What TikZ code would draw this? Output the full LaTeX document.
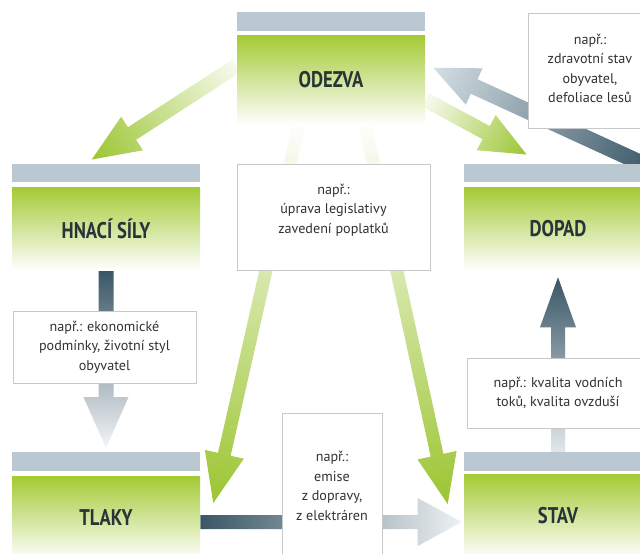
\documentclass[tikz,border=0pt]{standalone}
\usepackage{fontspec}
\setmainfont{PT Sans}
\newfontfamily\headfont[FakeStretch=0.82]{PT Sans}
\usetikzlibrary{calc}
\pgfdeclarelayer{bg}
\pgfsetlayers{bg,main}
\definecolor{grn}{RGB}{163,202,52}
\definecolor{agrn}{RGB}{156,197,50}
\definecolor{barcol}{RGB}{186,200,209}
\definecolor{headcol}{RGB}{40,52,55}
\definecolor{txtcol}{RGB}{50,50,50}
\definecolor{boxcol}{RGB}{200,200,200}
\definecolor{adark}{RGB}{58,86,102}
\definecolor{alight}{RGB}{212,222,228}
% block arrow: #1 start, #2 tip, #3 shaft half width, #4 head half width, #5 head length, #6 shading options
\newcommand\blockarrow[6]{%
  \path let \p1=($(#2)-(#1)$) in
    \pgfextra{\pgfmathsetmacro\tmpa{atan2(\y1,\x1)}\xdef\arang{\tmpa}%
              \pgfmathsetmacro\tmpb{veclen(\x1,\y1)/0.75}\xdef\arlen{\tmpb}};
  \begin{scope}[transform canvas={shift={(#1)},rotate=\arang}, x=0.75pt, y=0.75pt]
    \shade[#6]
      (0,-#3) -- (\arlen-#5,-#3) -- (\arlen-#5,-#4) -- (\arlen,0) --
      (\arlen-#5,#4) -- (\arlen-#5,#3) -- (0,#3) -- cycle;
  \end{scope}}
\begin{document}
\begin{tikzpicture}[x=0.75pt,y=-0.75pt,
  bar/.style={fill=barcol, draw=none, inner sep=0pt, minimum width=141pt, minimum height=13.75pt},
  gbox/.style={top color=grn, middle color=grn!45!white, bottom color=white, draw=none, inner sep=0pt,
    minimum width=141pt, text=headcol, font=\headfont\bfseries\fontsize{17}{19}\selectfont},
  tbox/.style={draw=boxcol, fill=white, line width=0.7pt, inner sep=0pt},
  ttext/.style={align=center, text=txtcol, inner sep=0pt, font=\fontsize{10.6}{14.7}\selectfont}]
\useasboundingbox (0,0) rectangle (640,554);
% main boxes
\node[bar] (odezvabar) at (331,21.5) {};
\node[gbox, minimum height=67.5pt] (odezva) at (331,80) {ODEZVA};
\node[bar] (hnacibar) at (106,173) {};
\node[gbox, minimum height=62.25pt] (hnaci) at (106,228.5) {HNACÍ SÍLY};
\node[bar] (dopadbar) at (558,173) {};
\node[gbox, minimum height=62.25pt] (dopad) at (558,228.5) {DOPAD};
\node[bar] (tlakybar) at (106,461.5) {};
\node[gbox, minimum height=63pt] (tlaky) at (106,518) {TLAKY};
\node[bar] (stavbar) at (558,461.5) {};
\node[gbox, minimum height=63pt] (stav) at (558,516) {STAV};
% text boxes
\node[tbox, minimum width=93pt, minimum height=86.25pt] (odbox) at (590,70.5) {};
\node[ttext] (odtext) at (590,68.5) {např.:\\zdravotní stav\\obyvatel,\\defoliace lesů};
\node[tbox, minimum width=144.75pt, minimum height=79.5pt] (midbox) at (333.5,217) {};
\node[ttext] (midtext) at (333.5,210) {např.:\\úprava legislativy\\zavedení poplatků};
\node[tbox, minimum width=137.25pt, minimum height=54pt] (lbox) at (104.5,347) {};
\node[ttext] (ltext) at (104.5,347) {např.: ekonomické\\podmínky, životní styl\\obyvatel};
\node[tbox, minimum width=136.5pt, minimum height=52.5pt] (rbox) at (558,393) {};
\node[ttext] (rtext) at (558,393) {např.: kvalita vodních\\toků, kvalita ovzduší};
\node[tbox, minimum width=75pt, minimum height=110.25pt] (bbox) at (332,486.5) {};
\node[ttext] (btext) at (332,486) {např.:\\emise\\z dopravy,\\z elektráren};
% arrows
\begin{pgfonlayer}{bg}
\coordinate (a1s) at ($(odezva.north west)+(0,31)$);
\coordinate (a1t) at ($(hnacibar.north west)+(80,-4)$);
\blockarrow{a1s}{a1t}{7.5}{20}{48}{left color=agrn!8!white, right color=agrn}
\coordinate (a2s) at ($(odezva.north east)+(0,65)$);
\coordinate (a2t) at ($(dopadbar.north west)+(63,-9)$);
\blockarrow{a2s}{a2t}{7.5}{20}{46}{left color=agrn!8!white, right color=agrn}
\coordinate (a3s) at ($(dopadbar.north east)+(3,6)$);
\coordinate (a3t) at ($(odezva.north east)+(8,33)$);
\blockarrow{a3s}{a3t}{8}{20}{45}{left color=adark, right color=alight}
\coordinate (a4t) at ($(tlakybar.north)+(0,-4)$);
\blockarrow{hnaci.south}{a4t}{7.5}{22.5}{51}{left color=adark, right color=alight!30!white}
\coordinate (a5t) at ($(dopad.south)+(0,7)$);
\blockarrow{stavbar.north}{a5t}{7}{18}{50}{left color=alight!70!white, right color=adark}
\coordinate (a6s) at ($(tlaky.east)+(0,4)$);
\coordinate (a6t) at ($(stav.west)+(-2,6)$);
\blockarrow{a6s}{a6t}{7}{24}{44}{left color=adark, right color=alight!40!white}
\coordinate (a7s) at ($(odezva.south)+(-31,-5)$);
\coordinate (a7t) at ($(tlakybar.north east)+(13,51)$);
\blockarrow{a7s}{a7t}{6.5}{20}{50}{left color=white, right color=agrn}
\coordinate (a8s) at ($(odezva.south)+(33,-5)$);
\coordinate (a8t) at ($(stavbar.north west)+(-16,52)$);
\blockarrow{a8s}{a8t}{6.5}{20}{50}{left color=white, right color=agrn}
\end{pgfonlayer}
\end{tikzpicture}
\end{document}
